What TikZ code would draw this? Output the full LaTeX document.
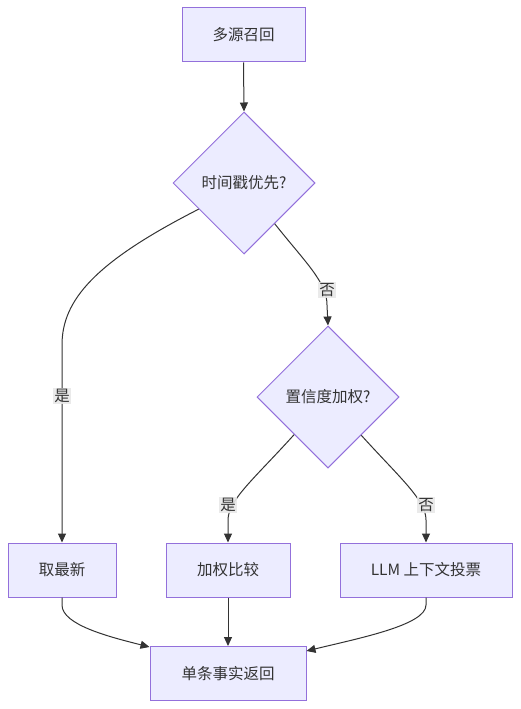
\documentclass[tikz,border=0pt]{standalone}
\usepackage{fontspec}
\setmainfont{Noto Sans CJK SC}
\usetikzlibrary{shapes.geometric,arrows.meta}
\definecolor{nodefill}{HTML}{ECECFF}
\definecolor{nodeline}{HTML}{9370DB}
\definecolor{edgecol}{HTML}{333333}
\definecolor{lblbg}{HTML}{E8E8E8}
\tikzset{
  box/.style={draw=nodeline, fill=nodefill, line width=1pt, text=edgecol, font=\fontsize{15.5}{18}\selectfont, inner sep=0pt, minimum height=54pt},
  dia/.style={diamond, draw=nodeline, fill=nodefill, line width=1pt, text=edgecol, font=\fontsize{15.5}{18}\selectfont, inner sep=0pt, minimum width=142pt, minimum height=142pt},
  edge/.style={draw=edgecol, line width=1pt, -{Triangle[length=9pt,width=8pt]}},
  lbl/.style={fill=lblbg, fill opacity=0.9, text opacity=1, text=edgecol, font=\fontsize{15.5}{18}\selectfont, inner sep=1.5pt},
}
\begin{document}
\begin{tikzpicture}[x=1pt,y=-1pt]
\useasboundingbox (0,0) rectangle (521,709);
\node[box, minimum width=123pt] (a) at (243.5,35) {多源召回};
\node[dia] (d1) at (244,183) {时间戳优先?};
\node[dia] (d2) at (328,397) {置信度加权?};
\node[box, minimum width=108pt] (b) at (62,570) {取最新};
\node[box, minimum width=124pt] (c) at (228,570) {加权比较};
\node[box, minimum width=172pt] (d) at (426,570) {LLM 上下文投票};
\node[box, minimum width=156pt] (e) at (228,673.5) {单条事实返回};

\draw[edge] (a.south) -- (d1.north);
\draw[edge] (d1.210) .. controls (95,262) and (62,300) .. (62,345) -- (b.north);
\draw[edge] (d1.-53) .. controls (305,262) and (327,282) .. (327,305) -- (d2.north);
\draw[edge] (d2.228) .. controls (255,478) and (228,500) .. (228,520) -- (c.north);
\draw[edge] (d2.-49) .. controls (400,478) and (426,500) .. (426,520) -- (d.north);
\draw[edge] (b.south) -- (62,605) .. controls (62,625) and (110,637) .. ([yshift=-1pt]e.north west);
\draw[edge] (c.south) -- (e.north);
\draw[edge] (d.south) -- (426,605) .. controls (426,625) and (360,638) .. ([yshift=-5pt]e.north east);

\node[lbl] (l1) at (62,396) {是};
\node[lbl] (l2) at (327,290) {否};
\node[lbl] (l3) at (228,505) {是};
\node[lbl] (l4) at (426,505) {否};
\end{tikzpicture}
\end{document}
